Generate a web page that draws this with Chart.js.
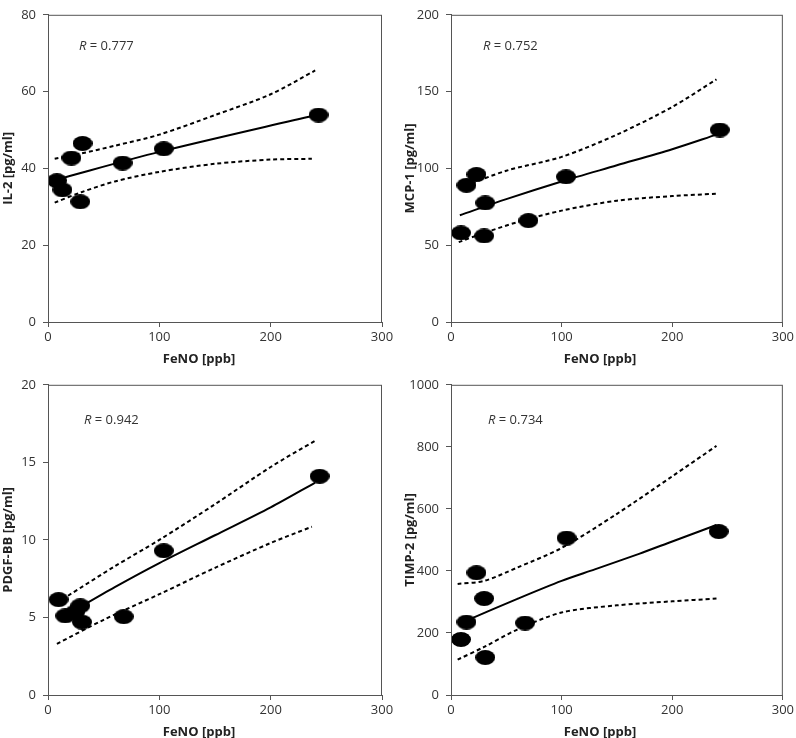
<!DOCTYPE html>
<html>
<head>
<meta charset="utf-8">
<script src="https://cdn.jsdelivr.net/npm/chart.js"></script>
<style>
  body { margin: 0; background: #fff; width: 796px; height: 738px; position: relative; overflow: hidden; font-family: "Open Sans", sans-serif; }
  canvas { position: absolute; }
  .rlab { position: absolute; font-size: 13px; color: #333; line-height: 16px; white-space: nowrap; }
  .xlab { position: absolute; font-size: 13px; font-weight: bold; color: #222; line-height: 16px; white-space: nowrap; transform: translate(-50%, -50%); }
</style>
</head>
<body>
<canvas id="c1" width="398" height="369" style="left:0;top:0"></canvas>
<canvas id="c2" width="396" height="369" style="left:400px;top:0"></canvas>
<canvas id="c3" width="398" height="368" style="left:0;top:370px"></canvas>
<canvas id="c4" width="396" height="368" style="left:400px;top:370px"></canvas>

<div class="rlab" style="left:79px;top:37px"><i>R</i> = 0.777</div>
<div class="rlab" style="left:483px;top:37px"><i>R</i> = 0.752</div>
<div class="rlab" style="left:84px;top:411px"><i>R</i> = 0.942</div>
<div class="rlab" style="left:488px;top:411px"><i>R</i> = 0.734</div>

<div class="xlab" style="left:199px;top:358px">FeNO [ppb]</div>
<div class="xlab" style="left:600px;top:358px">FeNO [ppb]</div>
<div class="xlab" style="left:199px;top:731px">FeNO [ppb]</div>
<div class="xlab" style="left:600px;top:731px">FeNO [ppb]</div>

<script>
// IL-2
const il2Feno = [8, 13, 21, 31, 29, 67, 104, 243];
const il2Vals = [36.8, 34.4, 42.7, 46.5, 31.3, 41.4, 45.1, 53.9];
const il2FitX = [9, 100, 238];
const il2FitY = [37.2, 44.3, 53.7];
const il2UpX = [6, 30, 60, 100, 150, 200, 240];
const il2UpY = [42.5, 43.9, 45.9, 48.8, 53.9, 59.3, 65.5];
const il2LoX = [6, 30, 60, 100, 150, 200, 237];
const il2LoY = [31.1, 33.8, 36.6, 39.1, 41.2, 42.3, 42.5];

// MCP-1
const mcpFeno = [9, 14, 23, 31, 30, 70, 104, 243];
const mcpVals = [58, 89, 96, 77.5, 56, 66, 94.5, 125];
const mcpFitX = [8, 50, 100, 150, 200, 240];
const mcpFitY = [69.5, 80, 91.5, 102, 112.5, 122];
const mcpUpX = [7, 50, 100, 150, 200, 240];
const mcpUpY = [87, 98.5, 107.5, 122, 140, 158];
const mcpLoX = [7, 30, 60, 100, 150, 200, 240];
const mcpLoY = [52, 58, 65, 72.5, 79, 82, 83.5];

// PDGF-BB
const pdgfFeno = [9.5, 15.5, 24.5, 29, 30.5, 68, 104, 244];
const pdgfVals = [6.15, 5.1, 5.35, 5.75, 4.7, 5.05, 9.3, 14.1];
const pdgfFitX = [20, 60, 100, 150, 200, 240];
const pdgfFitY = [5.3, 6.95, 8.5, 10.3, 12.1, 13.7];
const pdgfUpX = [18, 60, 100, 150, 200, 240];
const pdgfUpY = [6.4, 8.3, 10.0, 12.3, 14.7, 16.4];
const pdgfLoX = [8, 50, 100, 150, 200, 237];
const pdgfLoY = [3.3, 4.85, 6.5, 8.2, 9.8, 10.85];

// TIMP-2
const timpFeno = [9, 14, 23, 30, 31, 67, 104.5, 242];
const timpVals = [179, 235, 394, 311, 121, 232, 506, 527];
const timpFitX = [14, 60, 100, 130, 170, 200, 240];
const timpFitY = [240, 310, 368, 405, 455, 495, 548];
const timpUpX = [6, 30, 60, 100, 150, 200, 240];
const timpUpY = [358, 368, 411, 474, 584, 705, 803];
const timpLoX = [6, 30, 60, 100, 150, 200, 240];
const timpLoY = [114, 155, 211, 266, 289, 302, 311];

const axisColor = "#555";
const tickFont = { family: "Open Sans", size: 13 };

// black ellipse marker
const dot = document.createElement("canvas");
dot.width = 20;
dot.height = 15;
const dctx = dot.getContext("2d");
dctx.fillStyle = "#000";
dctx.beginPath();
dctx.ellipse(10, 7.5, 10, 7.5, 0, 0, Math.PI * 2);
dctx.fill();

const framePlugin = {
  id: "frame",
  afterDraw(chart) {
    const a = chart.chartArea;
    const ctx = chart.ctx;
    ctx.save();
    ctx.strokeStyle = axisColor;
    ctx.lineWidth = 1;
    ctx.strokeRect(a.left + 0.5, a.top + 0.5, a.right - a.left - 1, a.bottom - a.top);
    ctx.restore();
  },
};

function pts(xs, ys) {
  return xs.map((x, i) => ({ x: x, y: ys[i] }));
}

function makePanel(id, o) {
  new Chart(document.getElementById(id), {
    type: "scatter",
    data: {
      datasets: [
        {
          data: pts(o.upX, o.upY),
          showLine: true,
          borderColor: "#000",
          borderWidth: 2,
          borderDash: [4, 3],
          pointRadius: 0,
          tension: 0.3,
        },
        {
          data: pts(o.loX, o.loY),
          showLine: true,
          borderColor: "#000",
          borderWidth: 2,
          borderDash: [4, 3],
          pointRadius: 0,
          tension: 0.3,
        },
        {
          data: pts(o.fitX, o.fitY),
          showLine: true,
          borderColor: "#000",
          borderWidth: 2,
          pointRadius: 0,
          tension: 0.3,
        },
        {
          data: pts(o.x, o.y),
          pointStyle: dot,
          pointRadius: 10,
        },
      ],
    },
    options: {
      responsive: false,
      animation: false,
      layout: { padding: { top: o.padTop, right: o.padRight, left: 0, bottom: 0 } },
      plugins: { legend: { display: false }, tooltip: { enabled: false } },
      scales: {
        x: {
          type: "linear",
          min: 0,
          max: 300,
          afterFit(scale) { scale.height = o.xHeight; },
          ticks: { stepSize: 100, color: "#333", font: tickFont, padding: 2, maxRotation: 0 },
          grid: { display: true, drawOnChartArea: false, tickLength: 5, color: axisColor },
          border: { color: axisColor },
        },
        y: {
          type: "linear",
          min: 0,
          max: o.yMax,
          afterFit(scale) { scale.width = o.yWidth; },
          ticks: {
            stepSize: o.yStep,
            color: "#333",
            font: tickFont,
            padding: 7,
            callback: (v) => String(v),
          },
          grid: { display: true, drawOnChartArea: false, tickLength: 5, color: axisColor },
          border: { color: axisColor },
          title: {
            display: true,
            text: o.yTitle,
            color: "#222",
            font: { family: "Open Sans", size: 13, weight: "bold" },
            padding: { top: o.titlePad, bottom: 0 },
          },
        },
      },
    },
    plugins: [framePlugin],
  });
}

makePanel("c1", {
  x: il2Feno, y: il2Vals, fitX: il2FitX, fitY: il2FitY,
  upX: il2UpX, upY: il2UpY, loX: il2LoX, loY: il2LoY,
  yMax: 80, yStep: 20, yTitle: "IL-2 [pg/ml]",
  yWidth: 48, xHeight: 47, padTop: 5, padRight: 16, titlePad: 0,
});
makePanel("c2", {
  x: mcpFeno, y: mcpVals, fitX: mcpFitX, fitY: mcpFitY,
  upX: mcpUpX, upY: mcpUpY, loX: mcpLoX, loY: mcpLoY,
  yMax: 200, yStep: 50, yTitle: "MCP-1 [pg/ml]",
  yWidth: 51, xHeight: 47, padTop: 5, padRight: 10, titlePad: 2,
});
makePanel("c3", {
  x: pdgfFeno, y: pdgfVals, fitX: pdgfFitX, fitY: pdgfFitY,
  upX: pdgfUpX, upY: pdgfUpY, loX: pdgfLoX, loY: pdgfLoY,
  yMax: 20, yStep: 5, yTitle: "PDGF-BB [pg/ml]",
  yWidth: 48, xHeight: 43, padTop: 8, padRight: 16, titlePad: 0,
});
makePanel("c4", {
  x: timpFeno, y: timpVals, fitX: timpFitX, fitY: timpFitY,
  upX: timpUpX, upY: timpUpY, loX: timpLoX, loY: timpLoY,
  yMax: 1000, yStep: 200, yTitle: "TIMP-2 [pg/ml]",
  yWidth: 51, xHeight: 43, padTop: 8, padRight: 10, titlePad: 2,
});
</script>
</body>
</html>
